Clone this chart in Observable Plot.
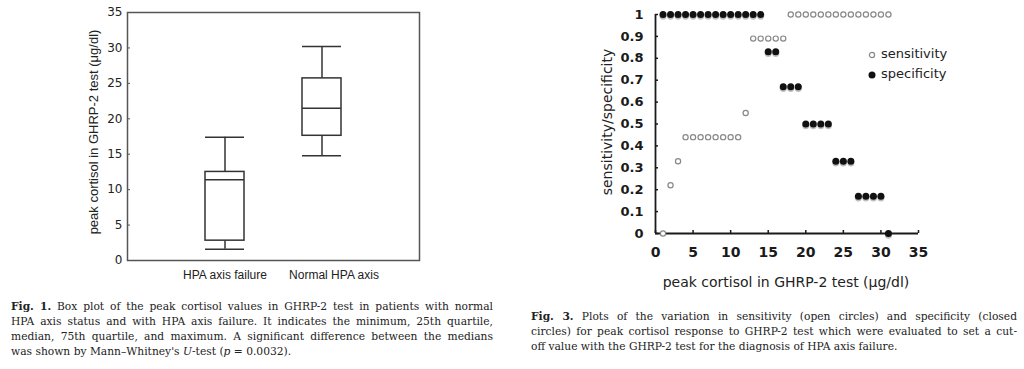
<!DOCTYPE html>
<html>
<head>
<meta charset="utf-8">
<script src="https://cdn.jsdelivr.net/npm/d3@7"></script>
<script src="https://cdn.jsdelivr.net/npm/@observablehq/plot@0.6"></script>
<style>
  html, body { margin: 0; padding: 0; background: #fff; }
  body { width: 1024px; height: 369px; position: relative; overflow: hidden; }
  .abs { position: absolute; }
  .rot { position: absolute; white-space: nowrap; transform: translate(-50%, -50%) rotate(-90deg); }
  .cap { position: absolute; font-family: "DejaVu Serif", serif; font-size: 10.7px; color: #222; line-height: 15px; }
  .cap div { text-align: justify; text-align-last: justify; }
  .cap div.last { text-align-last: left; white-space: nowrap; }
  .leg { position: absolute; font-family: "DejaVu Sans", sans-serif; font-size: 13px; color: #222; white-space: nowrap; }
</style>
</head>
<body>
<div id="p1" class="abs" style="left:0;top:0"></div>
<div id="p2" class="abs" style="left:590px;top:0"></div>

<div class="rot" style="left:93px;top:132px;font-family:'Liberation Sans',sans-serif;font-size:13px;color:#222">peak cortisol in GHRP-2 test (μg/dl)</div>
<div class="rot" style="left:607px;top:122px;font-family:'DejaVu Sans',sans-serif;font-size:14px;color:#222">sensitivity/specificity</div>
<div class="abs" style="left:786px;top:282px;transform:translate(-50%,-50%);white-space:nowrap;font-family:'DejaVu Sans',sans-serif;font-size:14px;color:#222">peak cortisol in GHRP-2 test (μg/dl)</div>

<div class="leg" style="left:866px;top:46px"><svg width="12" height="12" style="vertical-align:middle;margin-right:3px"><circle cx="6" cy="6" r="2.6" fill="white" stroke="#888" stroke-width="1.2"/></svg>sensitivity</div>
<div class="leg" style="left:866px;top:66px"><svg width="12" height="12" style="vertical-align:middle;margin-right:3px"><circle cx="6" cy="6" r="3.5" fill="#111"/></svg>specificity</div>

<div class="cap" style="left:11px;top:299px;width:482px">
  <div><b>Fig. 1.</b> Box plot of the peak cortisol values in GHRP-2 test in patients with normal</div>
  <div>HPA axis status and with HPA axis failure. It indicates the minimum, 25th quartile,</div>
  <div>median, 75th quartile, and maximum. A significant difference between the medians</div>
  <div class="last">was shown by Mann–Whitney's <i>U</i>-test (<i>p</i> = 0.0032).</div>
</div>
<div class="cap" style="left:531px;top:309px;width:486px">
  <div><b>Fig. 3.</b> Plots of the variation in sensitivity (open circles) and specificity (closed</div>
  <div>circles) for peak cortisol response to GHRP-2 test which were evaluated to set a cut-</div>
  <div class="last">off value with the GHRP-2 test for the diagnosis of HPA axis failure.</div>
</div>

<script>
// ---- Fig. 1 data (box plot) ----
const categories = ["HPA axis failure", "Normal HPA axis"];
const minVals    = [1.6, 14.8];
const q1Vals     = [2.8, 17.6];
const medianVals = [11.4, 21.5];
const q3Vals     = [12.5, 25.7];
const maxVals    = [17.4, 30.2];
const yTicks1    = [0, 5, 10, 15, 20, 25, 30, 35];

// ---- Fig. 3 data (sensitivity / specificity) ----
const cutoffs     = [1, 2, 3, 4, 5, 6, 7, 8, 9, 10, 11, 12, 13, 14, 15, 16, 17, 18, 19, 20, 21, 22, 23, 24, 25, 26, 27, 28, 29, 30, 31];
const sensitivity = [0, 0.22, 0.33, 0.44, 0.44, 0.44, 0.44, 0.44, 0.44, 0.44, 0.44, 0.55, 0.89, 0.89, 0.89, 0.89, 0.89, 1, 1, 1, 1, 1, 1, 1, 1, 1, 1, 1, 1, 1, 1];
const specificity = [1, 1, 1, 1, 1, 1, 1, 1, 1, 1, 1, 1, 1, 1, 0.83, 0.83, 0.67, 0.67, 0.67, 0.5, 0.5, 0.5, 0.5, 0.33, 0.33, 0.33, 0.17, 0.17, 0.17, 0.17, 0];
const xTicks2      = [0, 5, 10, 15, 20, 25, 30, 35];
const yTicks2      = [0, 0.1, 0.2, 0.3, 0.4, 0.5, 0.6, 0.7, 0.8, 0.9, 1];
const yTickLabels2 = ["0", "0.1", "0.2", "0.3", "0.4", "0.5", "0.6", "0.7", "0.8", "0.9", "1"];

const boxes = categories.map((c, i) => ({cat: c, min: minVals[i], q1: q1Vals[i], med: medianVals[i], q3: q3Vals[i], max: maxVals[i]}));
const sens = cutoffs.map((x, i) => ({x, y: sensitivity[i]}));
const spec = cutoffs.map((x, i) => ({x, y: specificity[i]}));

const boxStroke = "#333";
const p1 = Plot.plot({
  width: 440, height: 290,
  marginLeft: 127, marginRight: 21, marginTop: 12, marginBottom: 30,
  style: {fontFamily: "'DejaVu Sans', sans-serif", fontSize: "12px", color: "#222", background: "transparent", overflow: "visible"},
  x: {domain: categories, type: "band", paddingInner: 0.6, paddingOuter: 0.8},
  y: {domain: [0, 35]},
  marks: [
    Plot.frame({stroke: "#555", strokeWidth: 1.5}),
    Plot.axisY(yTicks1, {tickSize: 3, dx: 3, tickFormat: () => "", label: null, stroke: "#555"}),
    Plot.axisY(yTicks1, {tickSize: 0, tickPadding: 5, label: null, fontSize: 12}),
    Plot.axisX([categories[0]], {tickSize: 0, tickPadding: 10, label: null, fontFamily: "'Liberation Sans', sans-serif", fontSize: 12}),
    Plot.axisX([categories[1]], {tickSize: 0, tickPadding: 10, dx: 12, label: null, fontFamily: "'Liberation Sans', sans-serif", fontSize: 12}),
    Plot.ruleX(boxes, {x: "cat", y1: "q3", y2: "max", stroke: boxStroke, strokeWidth: 1.5}),
    Plot.ruleX(boxes, {x: "cat", y1: "min", y2: "q1", stroke: boxStroke, strokeWidth: 1.5}),
    Plot.barY(boxes, {x: "cat", y1: "q1", y2: "q3", fill: "white", stroke: boxStroke, strokeWidth: 1.5}),
    Plot.tickY(boxes, {x: "cat", y: "med", stroke: boxStroke, strokeWidth: 1.5}),
    Plot.tickY(boxes, {x: "cat", y: "min", stroke: boxStroke, strokeWidth: 1.5}),
    Plot.tickY(boxes, {x: "cat", y: "max", stroke: boxStroke, strokeWidth: 1.5})
  ]
});
document.getElementById("p1").appendChild(p1);

const labelMap = new Map(yTicks2.map((t, i) => [t, yTickLabels2[i]]));
const axisColor = "#1a1a1a";
const p2 = Plot.plot({
  width: 400, height: 300,
  marginLeft: 65, marginRight: 72, marginTop: 14, marginBottom: 67,
  style: {fontFamily: "'DejaVu Sans', sans-serif", fontSize: "14px", color: "#1a1a1a", background: "transparent", overflow: "visible"},
  x: {domain: [0, 35]},
  y: {domain: [0, 1]},
  marks: [
    Plot.axisY(yTicks2, {tickSize: 3, dx: 3, tickFormat: () => "", label: null, stroke: axisColor, strokeWidth: 1.5}),
    Plot.axisY(yTicks2, {tickSize: 0, tickPadding: 12, tickFormat: d => labelMap.get(d), label: null, fontSize: 13, fontWeight: "bold"}),
    Plot.axisX(xTicks2, {tickSize: 3, dy: -3, tickFormat: () => "", label: null, stroke: axisColor, strokeWidth: 1.5}),
    Plot.axisX(xTicks2, {tickSize: 0, tickPadding: 14, label: null, fontSize: 14, fontWeight: "bold"}),
    Plot.ruleX([0], {stroke: axisColor, strokeWidth: 1.8}),
    Plot.ruleY([0], {stroke: axisColor, strokeWidth: 1.8}),
    Plot.dot(spec, {x: "x", y: "y", r: 3.6, fill: "#888", fillOpacity: 0.55, dy: 1.6}),
    Plot.dot(spec, {x: "x", y: "y", r: 3.5, fill: "#111"}),
    Plot.dot(sens, {x: "x", y: "y", r: 2.6, fill: "white", stroke: "#888", strokeWidth: 1.2})
  ]
});
document.getElementById("p2").appendChild(p2);
</script>
</body>
</html>
